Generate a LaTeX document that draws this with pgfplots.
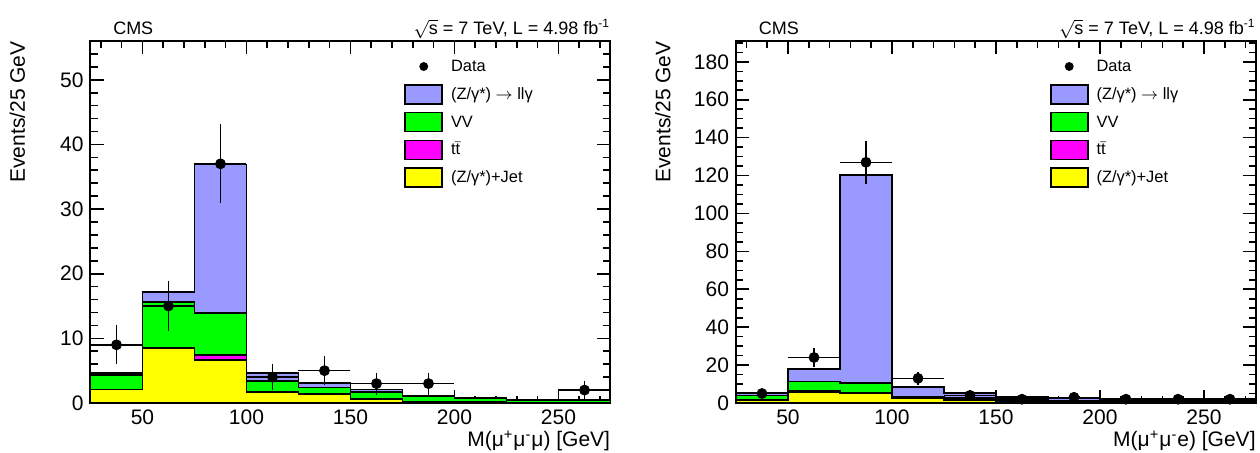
\documentclass[border=0pt]{standalone}
\usepackage{fontspec}
\setmainfont{Liberation Sans}
\usepackage{pgfplots}
\pgfplotsset{compat=1.18}

\definecolor{zgblue}{RGB}{153,153,255}
\definecolor{vvgreen}{RGB}{0,255,0}
\definecolor{ttmag}{RGB}{255,0,255}
\definecolor{jetyel}{RGB}{255,255,0}

\pgfplotsset{
 stk/.style={const plot, draw=black, line width=0.9pt, fill=#1,
   legend image code/.code={\draw[fill=#1, draw=black, line width=0.8pt] (0pt,-4.75pt) rectangle (18.5pt,4.75pt);}},
 datapts/.style={only marks, mark=*, mark size=2.5pt, black, forget plot,
   error bars/.cd, x dir=both, x explicit, y dir=both, y explicit, error mark=none,
   error bar style={line width=0.75pt, black}},
 cms/.style={
  width=260pt, height=181pt, scale only axis, clip=false,
  xmin=25, xmax=275, ymin=0,
  xtick={50,100,...,250}, minor xtick={30,40,...,270},
  tick pos=both, tick align=inside,
  major tick length=6.5pt, minor tick length=3.5pt,
  axis line style={line width=1pt},
  every tick/.append style={black, line width=0.8pt},
  /pgf/number format/assume math mode=true,
  ticklabel style={font=\fontsize{10.5}{12}\selectfont},
  label style={font=\fontsize{10.5}{12}\selectfont},
  xlabel style={at={(axis description cs:1,0)}, anchor=base east, yshift=-22pt, inner sep=0pt},
  ylabel style={at={(axis description cs:-0.13,1)}, anchor=base east, inner sep=0pt, yshift=-1pt},
  legend cell align=left,
  legend style={at={(axis description cs:0.603,0.961)}, anchor=north west, draw=none, fill=none,
    inner sep=0pt, row sep=2.9pt, column sep=3pt, font=\fontsize{8.2}{9.5}\selectfont,
    nodes={inner sep=1pt, text height=7pt, text depth=2pt}},
 },
}

\begin{document}
\begin{tikzpicture}
\useasboundingbox (0,0) rectangle (630pt,226.5pt);

% ---------------- left: mu mu mu ----------------
\begin{axis}[cms, at={(45.25pt,25pt)}, anchor=south west,
  ymax=56, ytick={0,10,...,50}, minor ytick={2,4,...,56},
  xlabel={M(μ\textsuperscript{+}μ\textsuperscript{-}μ) [GeV]},
  ylabel={Events/25 GeV}]
\addlegendimage{legend image code/.code={\fill[black] (9.25pt,0pt) circle (2pt);}}
\addlegendentry{Data}
\addplot[stk=zgblue] coordinates {(25,4.6) (50,17.2) (75,36.9) (100,4.6) (125,3.05) (150,2.1) (175,1.15) (200,0.8) (225,0.5) (250,0.5) (275,0.5)} \closedcycle;
\addlegendentry{(Z/γ*) $\rightarrow$ llγ}
\addplot[stk=vvgreen] coordinates {(25,4.3) (50,15.6) (75,13.9) (100,3.4) (125,2.4) (150,1.65) (175,1.0) (200,0.7) (225,0.45) (250,0.45) (275,0.45)} \closedcycle;
\addlegendentry{VV}
\addplot[stk=ttmag] coordinates {(25,2.1) (50,8.5) (75,7.4) (100,1.75) (125,1.35) (150,0.6) (175,0.2) (200,0.1) (225,0.05) (250,0.05) (275,0.05)} \closedcycle;
\addlegendentry{t$\bar{\mbox{t}}$}
\addplot[stk=jetyel] coordinates {(25,2.1) (50,8.5) (75,6.7) (100,1.75) (125,1.35) (150,0.6) (175,0.2) (200,0.1) (225,0.05) (250,0.05) (275,0.05)} \closedcycle;
\addlegendentry{(Z/γ*)+Jet}
\addplot[datapts] coordinates {
 (37.5,9) +- (12.5,3.0)
 (62.5,15) +- (12.5,3.9)
 (87.5,37) +- (12.5,6.1)
 (112.5,4) +- (12.5,2.0)
 (137.5,5) +- (12.5,2.2)
 (162.5,3) +- (12.5,1.7)
 (187.5,3) +- (12.5,1.7)
 (262.5,2) +- (12.5,1.4)};
\node[anchor=base west, inner sep=0pt, yshift=3.35pt, font=\fontsize{9}{10}\selectfont] at (rel axis cs:0.043,1) {CMS};
\node[anchor=base east, inner sep=0pt, yshift=3pt, font=\fontsize{9}{10}\selectfont] at (rel axis cs:1,1) {$\sqrt{\mbox{s}}$ = 7 TeV, L = 4.98 fb\textsuperscript{-1}};
\end{axis}

% ---------------- right: mu mu e ----------------
\begin{axis}[cms, at={(368pt,25pt)}, anchor=south west,
  ymax=191, ytick={0,20,...,180}, minor ytick={5,10,...,190},
  xlabel={M(μ\textsuperscript{+}μ\textsuperscript{-}e) [GeV]},
  ylabel={Events/25 GeV}]
\addlegendimage{legend image code/.code={\fill[black] (9.25pt,0pt) circle (2pt);}}
\addlegendentry{Data}
\addplot[stk=zgblue] coordinates {(25,5.1) (50,17.8) (75,120.4) (100,8.3) (125,5.1) (150,3.3) (175,2.5) (200,1.6) (225,1.3) (250,1.3) (275,1.3)} \closedcycle;
\addlegendentry{(Z/γ*) $\rightarrow$ llγ}
\addplot[stk=vvgreen] coordinates {(25,4.0) (50,11.3) (75,10.7) (100,3.3) (125,2.5) (150,1.6) (175,1.0) (200,0.8) (225,0.6) (250,0.6) (275,0.6)} \closedcycle;
\addlegendentry{VV}
\addplot[stk=ttmag] coordinates {(25,1.6) (50,6.3) (75,5.5) (100,2.5) (125,1.6) (150,0.8) (175,0.4) (200,0.3) (225,0.2) (250,0.2) (275,0.2)} \closedcycle;
\addlegendentry{t$\bar{\mbox{t}}$}
\addplot[stk=jetyel] coordinates {(25,1.6) (50,6.0) (75,5.1) (100,2.5) (125,1.6) (150,0.8) (175,0.4) (200,0.3) (225,0.2) (250,0.2) (275,0.2)} \closedcycle;
\addlegendentry{(Z/γ*)+Jet}
\addplot[datapts] coordinates {
 (37.5,5) +- (12.5,2.2)
 (62.5,24) +- (12.5,4.9)
 (87.5,127) +- (12.5,11.3)
 (112.5,13) +- (12.5,3.6)
 (137.5,4) +- (12.5,2.0)
 (162.5,2) +- (12.5,1.4)
 (187.5,3) +- (12.5,1.7)
 (212.5,2) +- (12.5,1.4)
 (237.5,2) +- (12.5,1.4)
 (262.5,2) +- (12.5,1.4)};
\node[anchor=base west, inner sep=0pt, yshift=3.35pt, font=\fontsize{9}{10}\selectfont] at (rel axis cs:0.043,1) {CMS};
\node[anchor=base east, inner sep=0pt, yshift=3pt, font=\fontsize{9}{10}\selectfont] at (rel axis cs:1,1) {$\sqrt{\mbox{s}}$ = 7 TeV, L = 4.98 fb\textsuperscript{-1}};
\end{axis}
\end{tikzpicture}
\end{document}
